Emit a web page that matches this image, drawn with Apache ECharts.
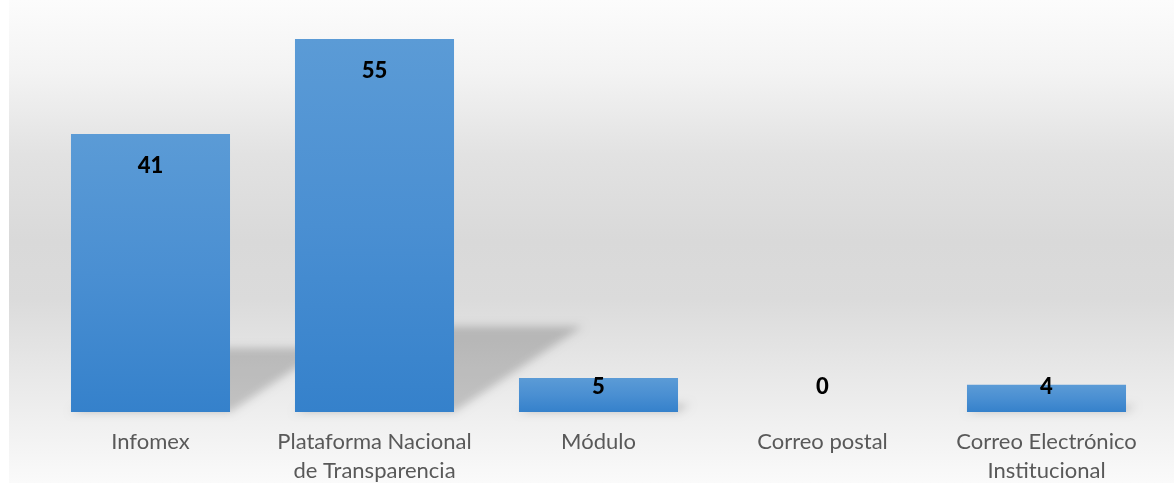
<!DOCTYPE html>
<html>
<head>
<meta charset="utf-8">
<script src="https://cdn.jsdelivr.net/npm/echarts@6/dist/echarts.min.js"></script>
<style>
html, body { margin: 0; padding: 0; background: #fff; }
#chart { width: 1174px; height: 483px; }
</style>
</head>
<body>
<div id="chart"></div>
<script>
var categories = ['Infomex', 'Plataforma Nacional\nde Transparencia', 'Módulo', 'Correo postal', 'Correo Electrónico\nInstitucional'];
var values = [41, 55, 5, 0, 4];
var yMax = 60;

var barFrac = 0.71;

function shadowData() {
	var out = [];
	for (var i = 0; i < values.length; i++) {
		out.push([i, values[i]]);
	}
	return out;
}

function barData() {
	var out = [];
	for (var i = 0; i < values.length; i++) {
		var big = values[i] >= 10;
		out.push({
			value: values[i],
			label: big ? { position: 'insideTop', distance: 21 } : { position: 'insideBottom', distance: 14 }
		});
	}
	return out;
}

// perspective shadow behind each bar (only the blurred shadow is visible,
// the shape itself sits off to the left)
var OFF = 3000;
function renderShadow(params, api) {
	var base = api.coord([api.value(0), 0]);
	var top = api.coord([api.value(0), api.value(1)]);
	var w = api.size([1, 0])[0] * barFrac;
	var h = (base[1] - top[1]) * 0.23;
	var dx = h * 1.5;
	var x0 = base[0] - w / 2 - OFF;
	var x1 = base[0] + w / 2 - OFF;
	var y = base[1];
	return {
		type: 'polygon',
		shape: {
			points: [[x0, y], [x1, y], [x1 + dx, y - h], [x0 + dx, y - h]]
		},
		style: {
			fill: '#000',
			shadowBlur: 9,
			shadowOffsetX: OFF,
			shadowColor: 'rgba(0,0,0,0.19)'
		}
	};
}

var myChart = echarts.init(document.getElementById('chart'));
var option = {
	animation: false,
	graphic: [{
		type: 'rect',
		left: 9,
		top: 0,
		z: -10,
		shape: { width: 1165, height: 483 },
		style: {
			fill: new echarts.graphic.LinearGradient(0, 0, 0, 1, [
				{ offset: 0, color: '#fcfcfc' },
				{ offset: 0.15, color: '#f3f3f3' },
				{ offset: 0.32, color: '#e2e2e2' },
				{ offset: 0.5, color: '#d9d9d9' },
				{ offset: 0.62, color: '#dbdbdb' },
				{ offset: 0.8, color: '#eaeaea' },
				{ offset: 1, color: '#fafafa' }
			])
		}
	}],
	grid: {
		left: 38.5,
		right: 15.5,
		top: 5,
		bottom: 71,
		outerBoundsMode: 'none'
	},
	xAxis: {
		type: 'category',
		data: categories,
		axisLine: { show: false },
		axisTick: { show: false },
		axisLabel: {
			margin: 15,
			interval: 0,
			fontFamily: 'Lato',
			fontSize: 22,
			lineHeight: 29,
			color: '#595959'
		}
	},
	yAxis: {
		type: 'value',
		min: 0,
		max: yMax,
		show: false,
		splitLine: { show: false }
	},
	series: [{
		type: 'custom',
		renderItem: renderShadow,
		data: shadowData(),
		z: 1,
		silent: true
	}, {
		type: 'bar',
		data: barData(),
		barWidth: (barFrac * 100) + '%',
		z: 3,
		itemStyle: {
			color: new echarts.graphic.LinearGradient(0, 0, 0, 1, [
				{ offset: 0, color: '#5b9bd6' },
				{ offset: 0.5, color: '#4a8fd2' },
				{ offset: 1, color: '#3581cb' }
			])
		},
		label: {
			show: true,
			fontFamily: 'Lato',
			fontWeight: 900,
			fontSize: 22,
			color: '#000'
		}
	}]
};
myChart.setOption(option);
</script>
</body>
</html>
